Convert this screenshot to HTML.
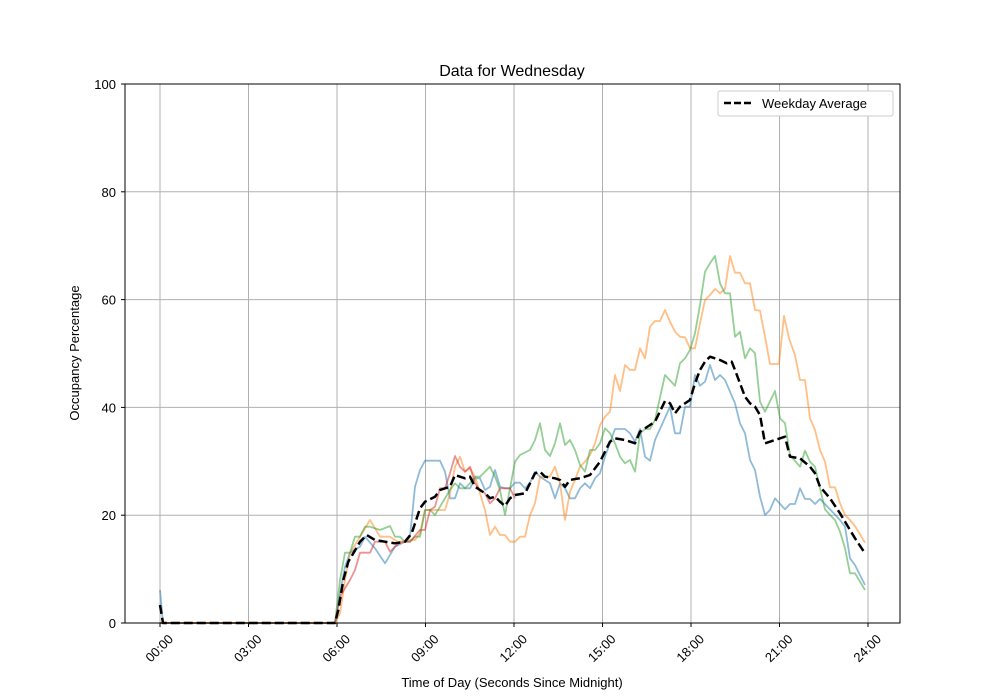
<!DOCTYPE html>
<html><head><meta charset="utf-8"><style>
body{margin:0;background:#fff}
svg{display:block;font-family:"Liberation Sans","DejaVu Sans",sans-serif}
</style></head><body>
<svg id="s" width="1000" height="700" xmlns="http://www.w3.org/2000/svg">
<rect width="1000" height="700" fill="#fff"/>
<g id="grid"></g>
<g id="lines" fill="none" stroke-linejoin="round"></g>
<rect x="125" y="84" width="775" height="539" fill="none" stroke="#000" stroke-width="1"/>
<g id="ticks" font-size="13" fill="#000"></g>
<text x="512" y="76" font-size="16" text-anchor="middle">Data for Wednesday</text>
<text x="512" y="687" font-size="13" text-anchor="middle">Time of Day (Seconds Since Midnight)</text>
<text transform="translate(79,353) rotate(-90)" font-size="13" text-anchor="middle">Occupancy Percentage</text>
<rect x="718" y="91" width="175" height="25" rx="2" fill="#fff" stroke="#ccc"/>
<line x1="724" y1="103" x2="752" y2="103" stroke="#000" stroke-width="2.5" stroke-dasharray="7,3"/>
<text x="762" y="108" font-size="13">Weekday Average</text>
</svg>
<script>
const NS="http://www.w3.org/2000/svg";
function el(p,t,a,txt){const e=document.createElementNS(NS,t);for(const k in a)e.setAttribute(k,a[k]);if(txt)e.textContent=txt;p.appendChild(e);return e;}
const g=document.getElementById('grid'),tk=document.getElementById('ticks'),L=document.getElementById('lines');
const labs=["00:00","03:00","06:00","09:00","12:00","15:00","18:00","21:00","24:00"];
for(let i=0;i<9;i++){const x=160+88.5*i;el(g,'line',{x1:x,y1:84,x2:x,y2:623,stroke:'#b0b0b0','stroke-width':1});
el(tk,'line',{x1:x,y1:623,x2:x,y2:627,stroke:'#000'});
el(tk,'text',{transform:`translate(${x},${649}) rotate(-45)`,'text-anchor':'middle','dominant-baseline':'middle','font-size':13},labs[i]);}
for(let i=0;i<=5;i++){const y=623-107.8*i;if(i>0&&i<5)el(g,'line',{x1:125,y1:y,x2:900,y2:y,stroke:'#b0b0b0','stroke-width':1});
el(tk,'line',{x1:121,y1:y,x2:125,y2:y,stroke:'#000'});
el(tk,'text',{x:116,y:y+5,'text-anchor':'end','font-size':13},String(i*20));}
function z1(a){return a.map(p=>[320+p[0]/3,380+p[1]/3]);}
function z2(a){return a.map(p=>[580+p[0]/3,240+p[1]/3]);}
function draw(pts,col,w,dash,op){el(L,'polyline',{points:pts.map(p=>p[0].toFixed(1)+','+p[1].toFixed(1)).join(' '),stroke:col,'stroke-width':w,'stroke-opacity':op||1,'stroke-dasharray':dash||'none'});}
const blue=[[160,590],[163,623]].concat(z1([[45,729],[60,640],[75,560],[90,518],[120,500],[135,470],[165,505],[195,550],[225,500],[255,485],[270,470],[285,320],[300,270],[315,242],[360,242],[375,275],[390,355],[405,355],[420,310],[435,325],[450,325],[465,295],[480,295],[495,330],[510,320],[525,270],[540,320],[555,325],[570,325],[585,308],[600,308],[615,325],[630,308],[645,275],[660,290],[675,300],[690,310],[705,355],[720,310],[735,325],[750,355],[765,355]]),z2([[0,745],[15,730],[30,745],[45,715],[60,700],[75,650],[105,567],[135,567],[150,580],[165,605],[180,567],[195,650],[210,662],[225,600],[270,500],[285,580],[300,580],[315,500],[330,500],[345,405],[360,437],[375,425],[390,375],[405,420],[420,405],[435,420],[450,455],[465,490],[480,550],[495,580],[510,660],[525,690],[540,770],[555,825],[570,810],[585,775],[615,808],[630,792],[645,792],[660,745],[675,777],[690,777],[705,792],[720,777],[750,808],[780,840],[795,860],[810,955],[825,975],[855,1035]]));
const orange=[[160,623]].concat(z1([[45,729],[60,700],[75,600],[90,520],[120,470],[150,420],[180,470],[210,470],[240,490],[270,480],[285,480],[300,460],[315,390],[330,390],[375,390],[390,340],[405,260],[420,230],[435,275],[450,265],[465,290],[480,340],[495,390],[510,465],[525,440],[540,465],[555,465],[570,485],[585,485],[600,470],[615,470],[630,405],[645,370],[660,290],[675,290],[690,290],[705,260],[720,310],[735,420],[750,335],[765,300]]),z2([[0,680],[15,665],[30,645],[45,610],[60,555],[75,530],[90,515],[105,405],[120,453],[135,375],[150,390],[165,390],[180,325],[195,355],[210,260],[225,243],[240,243],[255,210],[270,245],[285,275],[300,290],[315,292],[330,325],[345,325],[360,250],[375,180],[390,165],[405,147],[420,160],[435,147],[450,48],[465,98],[480,98],[495,130],[510,130],[525,210],[540,212],[555,290],[570,372],[597,372],[612,228],[627,295],[645,345],[660,420],[675,420],[690,535],[705,570],[720,630],[735,665],[750,742],[765,742],[780,790],[795,825],[810,840],[825,858],[855,908]]));
const green=[[160,623]].concat(z1([[45,729],[60,600],[75,518],[90,518],[105,470],[120,470],[135,440],[150,440],[180,450],[210,438],[225,470],[240,470],[255,485],[270,485],[285,470],[300,470],[315,390],[330,390],[345,405],[360,380],[375,355],[390,330],[405,310],[420,325],[435,325],[450,310],[465,290],[480,290],[495,275],[510,260],[525,290],[540,330],[555,405],[570,325],[585,245],[600,225],[630,210],[645,180],[660,130],[675,210],[690,228],[705,190],[720,130],[735,195],[750,180],[765,210]]),z2([[0,675],[15,695],[30,630],[45,630],[60,610],[75,565],[90,580],[105,610],[120,650],[135,670],[150,660],[165,695],[180,580],[195,567],[210,567],[225,540],[255,405],[285,437],[300,370],[315,355],[330,330],[345,280],[360,195],[375,95],[390,70],[405,48],[420,130],[435,160],[450,160],[465,290],[480,275],[495,355],[510,325],[525,340],[540,485],[555,515],[585,453],[600,535],[615,550],[630,645],[660,680],[675,632],[690,665],[705,680],[720,745],[735,808],[750,825],[765,840],[780,875],[795,925],[810,1000],[825,1000],[855,1050]]));
const red=[[160,623]].concat(z1([[45,729],[60,650],[75,625],[90,600],[105,570],[120,518],[150,518],[165,485],[195,485],[210,515],[225,500],[240,485],[270,485],[300,450],[315,450],[330,390],[345,380],[360,325],[375,325],[390,280],[405,228],[420,260],[435,275],[450,260],[465,310],[480,330],[495,340],[510,370],[525,355],[540,325],[555,325],[570,325],[585,355]]));
const black=[[160,605],[163,623]].concat(z1([[45,729],[55,690],[70,600],[85,545],[100,520],[120,485],[140,465],[165,480],[195,485],[225,490],[255,485],[275,460],[290,415],[300,385],[315,365],[345,350],[360,330],[375,325],[390,320],[405,285],[420,290],[435,295],[450,290],[465,320],[480,330],[495,340],[510,355],[525,350],[540,365],[555,378],[570,355],[585,345],[615,340],[630,310],[645,280],[660,275],[675,290],[705,295],[720,300],[735,320],[750,300],[770,296]]),z2([[0,715],[30,705],[60,665],[90,605],[105,595],[135,600],[165,610],[180,575],[225,545],[255,483],[270,490],[285,520],[300,500],[330,480],[345,430],[360,390],[375,365],[390,350],[420,360],[440,370],[455,365],[465,390],[480,430],[495,470],[510,490],[525,500],[540,525],[555,610],[585,600],[615,590],[630,650],[660,655],[690,680],[705,700],[720,740],[750,775],[780,820],[795,845],[810,870],[825,895],[855,940]]));
draw(blue,'#1f77b4',1.8,null,0.5);
draw(orange,'#ff7f0e',1.8,null,0.5);
draw(green,'#2ca02c',1.8,null,0.5);
draw(red,'#d62728',1.8,null,0.5);
draw(black,'#000',2.5,'9,4');
</script>
</body></html>
